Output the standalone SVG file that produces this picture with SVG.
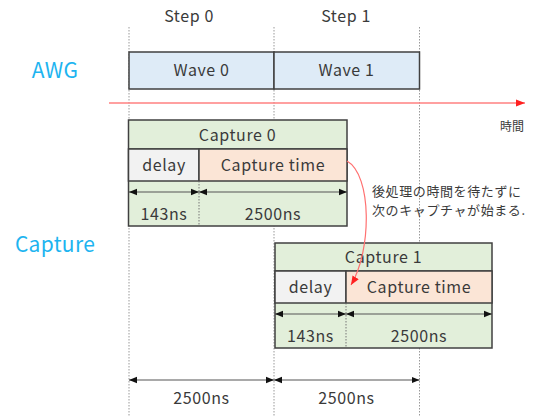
<svg xmlns="http://www.w3.org/2000/svg" width="553" height="417" viewBox="0 0 553 417">
<style>
text{font-family:"Noto Sans CJK JP","Noto Sans",sans-serif;fill:#3a3a3a;}
.t{font-size:16px;letter-spacing:0.6px;text-anchor:middle;}
.lbl{font-size:21px;fill:#1DB4F0;text-anchor:middle;letter-spacing:0.3px;}
.note{font-size:13px;letter-spacing:0.6px;}
.grid{stroke:#999;stroke-width:1;stroke-dasharray:1.5 1.5;fill:none;}
.box{stroke:#404040;stroke-width:1.5;}
.dim{stroke:#555;stroke-width:1.2;fill:none;marker-start:url(#ah);marker-end:url(#ah);}
.sep{stroke:#777;stroke-width:1;stroke-dasharray:1.5 1.5;}
</style>
<defs>
<marker id="ah" viewBox="0 0 10 10" refX="10" refY="5" markerWidth="8" markerHeight="8" markerUnits="userSpaceOnUse" orient="auto-start-reverse"><path d="M0,1 L10,5 L0,9 Z" fill="#111"/></marker>
<marker id="ra" viewBox="0 0 10 10" refX="10" refY="5" markerWidth="9" markerHeight="9" markerUnits="userSpaceOnUse" orient="auto"><path d="M0,1 L10,5 L0,9 Z" fill="#FF2020"/></marker>
</defs>
<rect width="553" height="417" fill="#fff"/>
<g id="grid">
<line class="grid" x1="129" y1="27" x2="129" y2="417"/>
<line class="grid" x1="274" y1="27" x2="274" y2="417"/>
<line class="grid" x1="419.5" y1="27" x2="419.5" y2="417"/>
</g>
<g id="steps">
<text class="t" x="189" y="22">Step 0</text>
<text class="t" x="346" y="22">Step 1</text>
</g>
<text class="lbl" x="55" y="78">AWG</text>
<text class="lbl" x="55" y="252">Capture</text>
<g id="wave0"><rect class="box" x="129" y="52" width="145" height="37" fill="#DEEBF7"/><text class="t" x="201.5" y="76">Wave 0</text></g>
<g id="wave1"><rect class="box" x="274" y="52" width="145.5" height="37" fill="#DEEBF7"/><text class="t" x="346.5" y="76">Wave 1</text></g>
<g id="timeaxis">
<line x1="109" y1="103" x2="525" y2="103" stroke="#FF8080" stroke-width="1.5" marker-end="url(#ra)"/>
<text x="512" y="131" style="font-size:12px;text-anchor:middle">時間</text>
</g>
<g id="capture0">
<rect class="box" x="128.5" y="120" width="218.5" height="106" fill="#E2EFDA"/>
<line class="box" x1="128.5" y1="149" x2="347" y2="149"/>
<rect class="box" x="128.5" y="149" width="70.5" height="32" fill="#F2F2F2"/>
<rect class="box" x="199" y="149" width="148" height="32" fill="#FBE5D6"/>
<line class="sep" x1="199" y1="181" x2="199" y2="226"/>
<text class="t" x="237.5" y="141">Capture 0</text>
<text class="t" x="164" y="171">delay</text>
<text class="t" x="273" y="171">Capture time</text>
<line class="dim" x1="129" y1="192" x2="199" y2="192"/>
<line class="dim" x1="199" y1="192" x2="347" y2="192"/>
<text class="t" x="164" y="220">143ns</text>
<text class="t" x="273" y="220">2500ns</text>
</g>
<g id="capture1">
<rect class="box" x="275" y="243" width="217" height="105" fill="#E2EFDA"/>
<line class="box" x1="275" y1="271" x2="492" y2="271"/>
<rect class="box" x="275" y="271" width="71" height="32" fill="#F2F2F2"/>
<rect class="box" x="346" y="271" width="146" height="32" fill="#FBE5D6"/>
<line class="sep" x1="346" y1="303" x2="346" y2="348"/>
<text class="t" x="383.5" y="263">Capture 1</text>
<text class="t" x="310.5" y="293">delay</text>
<text class="t" x="419" y="293">Capture time</text>
<line class="dim" x1="275" y1="314" x2="346" y2="314"/>
<line class="dim" x1="346" y1="314" x2="492" y2="314"/>
<text class="t" x="310.5" y="342">143ns</text>
<text class="t" x="419" y="342">2500ns</text>
</g>
<g id="note">
<text class="note" x="372" y="196">後処理の時間を待たずに</text>
<text class="note" x="372" y="215">次のキャプチャが始まる.</text>
</g>
<g id="connectors">
<path d="M347,161 C372,175 372,250 351,285" fill="none" stroke="#FF7070" stroke-width="1.2" marker-end="url(#ra)"/>
<line class="dim" x1="129" y1="380" x2="274" y2="380"/>
<line class="dim" x1="274" y1="380" x2="419.5" y2="380"/>
</g>
<g id="bottomlabels">
<text class="t" x="201.5" y="404">2500ns</text>
<text class="t" x="346.5" y="404">2500ns</text>
</g>
</svg>
